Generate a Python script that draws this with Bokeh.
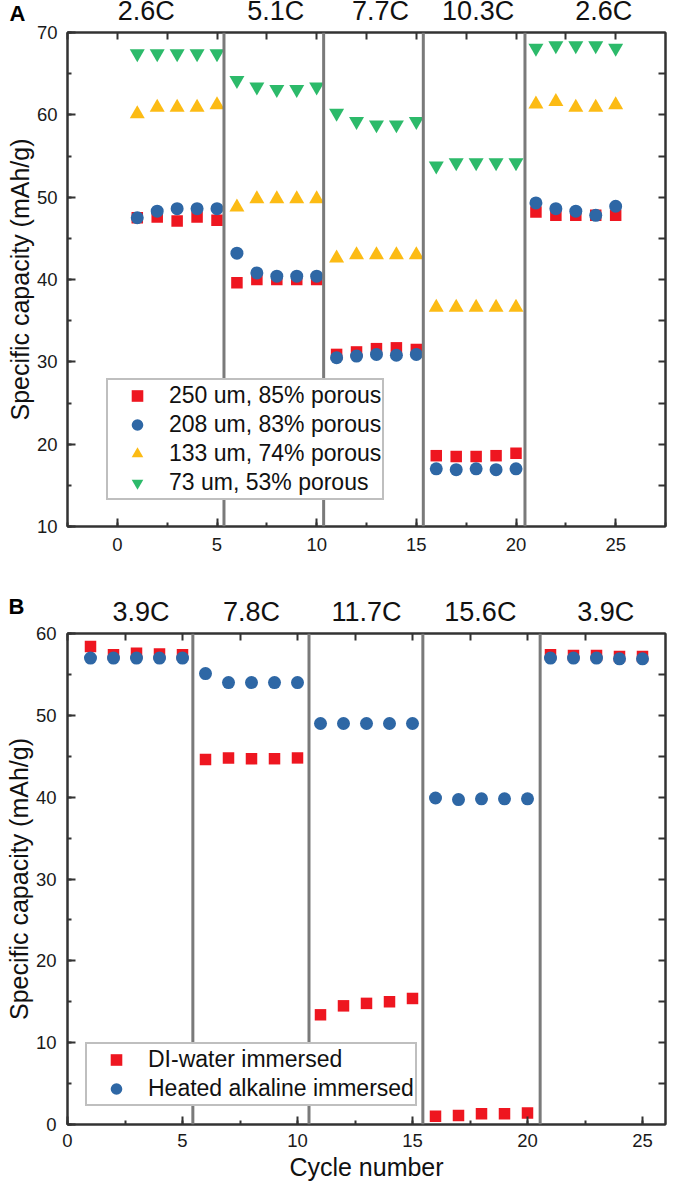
from bokeh.plotting import figure
from bokeh.models import (Range1d, LinearAxis, SingleIntervalTicker, FixedTicker, Span,
                          Legend, LegendItem, ColumnDataSource)
from bokeh.core.properties import value
from bokeh.layouts import column
from bokeh.embed import file_html
from bokeh.resources import INLINE

# ---------------- data ----------------
cycles = list(range(1, 26))

# Panel A
a_250 = [47.5, 47.6, 47.1, 47.6, 47.2,
         39.6, 40.0, 40.0, 40.0, 40.0,
         30.9, 31.2, 31.6, 31.7, 31.5,
         18.6, 18.5, 18.5, 18.6, 18.9,
         48.2, 47.8, 47.8, 47.8, 47.8]
a_208 = [47.5, 48.3, 48.6, 48.6, 48.6,
         43.2, 40.8, 40.4, 40.4, 40.4,
         30.5, 30.7, 30.9, 30.8, 30.9,
         17.0, 16.9, 17.0, 16.9, 17.0,
         49.3, 48.6, 48.3, 47.8, 48.9]
a_133 = [60.1, 60.9, 60.9, 60.9, 61.2,
         48.8, 49.8, 49.8, 49.8, 49.8,
         42.6, 43.0, 43.0, 43.0, 43.0,
         36.6, 36.6, 36.6, 36.6, 36.6,
         61.3, 61.6, 60.9, 60.9, 61.2]
a_73 = [67.45, 67.45, 67.45, 67.45, 67.45,
        64.2, 63.4, 63.1, 63.1, 63.4,
        60.2, 59.2, 58.8, 58.8, 59.2,
        53.8, 54.2, 54.2, 54.2, 54.2,
        68.1, 68.4, 68.4, 68.4, 68.1]
a_labels = ["250 um, 85% porous", "208 um, 83% porous",
            "133 um, 74% porous", "73 um, 53% porous"]
a_rates = ["2.6C", "5.1C", "7.7C", "10.3C", "2.6C"]

# Panel B
b_di = [58.4, 57.4, 57.6, 57.5, 57.4,
        44.6, 44.8, 44.7, 44.7, 44.8,
        13.4, 14.5, 14.8, 15.0, 15.4,
        1.0, 1.1, 1.3, 1.3, 1.4,
        57.4, 57.3, 57.3, 57.2, 57.2]
b_alk = [57.0, 57.0, 57.0, 57.0, 57.0,
         55.1, 54.0, 54.0, 54.0, 54.0,
         49.0, 49.0, 49.0, 49.0, 49.0,
         39.9, 39.7, 39.8, 39.8, 39.8,
         57.0, 57.0, 57.0, 56.9, 56.9]
b_labels = ["DI-water immersed", "Heated alkaline immersed"]
b_rates = ["3.9C", "7.8C", "11.7C", "15.6C", "3.9C"]

y_title = "Specific capacity (mAh/g)"
x_title = "Cycle number"

# ---------------- layout / style ----------------
FONT = "Liberation Sans"
RED = "#ee1620"
BLUE = "#2e67a5"
YELLOW = "#fcbb14"
GREEN = "#2cba6a"
DIV = "#7a7a7a"
AX = "#333333"

W = 667
BR = 2
TOP = 7
A_BL, B_BL = 66, 67
A_X, A_Y = (-2.5, 27.5), (10, 70)
B_X, B_Y = (0.0, 26.0), (0, 60)

a_rate_x = [1.45, 7.95, 13.2, 18.1, 24.4]
b_rate_x = [3.2, 8.0, 13.0, 17.95, 23.4]
a_div = [5.35, 10.35, 15.35, 20.45]
b_div = [5.45, 10.5, 15.45, 20.55]

HEAD_A, FIG_A = 25, 565
HEAD_B, FIG_B = 36, 559
A_BOT, B_BOT = 64, 61


def base_axis(ax):
    ax.axis_line_width = 2
    ax.axis_line_color = AX
    ax.major_tick_line_width = 2
    ax.minor_tick_line_width = 2
    ax.major_tick_line_color = AX
    ax.minor_tick_line_color = AX
    ax.major_tick_out = 0
    ax.minor_tick_out = 0


def label_axis(ax, interval, standoff):
    base_axis(ax)
    ax.ticker = SingleIntervalTicker(interval=interval, num_minor_ticks=2)
    ax.major_tick_in = 8
    ax.minor_tick_in = 4
    ax.major_label_text_font = FONT
    ax.major_label_text_color = "#1a1a1a"
    ax.major_label_text_font_size = "18.5px"
    ax.major_label_standoff = standoff


def mirror_axis(lo, hi, step):
    # tick-only axis for the top / right frame edges (no labels)
    n = int(round((hi - lo) / step))
    pos = [lo + i * step for i in range(1, n)]
    ax = LinearAxis(ticker=FixedTicker(ticks=[], minor_ticks=pos))
    base_axis(ax)
    ax.major_tick_in = 0
    ax.minor_tick_in = 7
    ax.major_label_standoff = 0
    ax.axis_label_standoff = 0
    return ax


def make_fig(height, xr, yr, bl, bottom, xint, yint, xstand, ystand, xstep):
    p = figure(width=W, height=height, x_range=xr, y_range=Range1d(*yr),
               output_backend="svg", toolbar_location=None, title=None,
               min_border_left=bl, min_border_right=BR,
               min_border_top=TOP, min_border_bottom=bottom,
               x_axis_location=None, y_axis_location=None)
    p.grid.visible = False
    p.outline_line_color = AX
    p.outline_line_width = 2
    p.background_fill_color = "white"
    p.border_fill_color = "white"
    xb = LinearAxis()
    label_axis(xb, xint, xstand)
    p.add_layout(xb, "below")
    yl = LinearAxis()
    label_axis(yl, yint, ystand)
    yl.axis_label = y_title
    yl.axis_label_text_font = FONT
    yl.axis_label_text_font_size = "25px"
    yl.axis_label_text_font_style = "normal"
    yl.axis_label_text_color = "#111111"
    yl.axis_label_standoff = 0
    p.add_layout(yl, "left")
    lo = xr.start if xr.start % xstep == 0 else xr.start + (-xr.start % xstep)
    p.add_layout(mirror_axis(lo - xstep, xr.end, xstep), "above")
    p.add_layout(mirror_axis(yr[0], yr[1], 5), "right")
    return p, xb


def make_head(height, xr, bl, rate_x, rates, letter, letter_y, letter_right):
    h = figure(width=W, height=height, x_range=xr, y_range=Range1d(0, height),
               output_backend="svg", toolbar_location=None, title=None, min_border=0,
               min_border_left=bl, min_border_right=BR, min_border_top=0, min_border_bottom=0,
               x_axis_location=None, y_axis_location=None)
    h.grid.visible = False
    h.outline_line_color = None
    h.background_fill_color = "white"
    h.border_fill_color = "white"
    # panel letter drawn as the single label of a bare left axis
    la = LinearAxis(ticker=FixedTicker(ticks=[letter_y], minor_ticks=[]),
                    major_label_overrides={letter_y: letter})
    la.axis_line_color = None
    la.major_tick_line_color = None
    la.minor_tick_line_color = None
    la.major_tick_in = 0
    la.major_tick_out = 0
    la.major_label_standoff = bl - letter_right
    la.major_label_text_font = FONT
    la.major_label_text_font_size = "22px"
    la.major_label_text_font_style = "bold"
    la.major_label_text_color = "#000000"
    h.add_layout(la, "left")
    src = ColumnDataSource(dict(x=rate_x, y=[0] * len(rates), t=rates))
    h.text(x="x", y="y", text="t", source=src, text_font=value(FONT),
           text_font_size=value("27px"), text_align="center", text_baseline="bottom",
           text_color="#111111")
    return h


def make_legend(labels, renderers, loc):
    return Legend(items=[LegendItem(label=l, renderers=[r]) for l, r in zip(labels, renderers)],
                  location=loc, margin=0, padding=1, spacing=0,
                  glyph_width=56, glyph_height=29, label_height=29, label_standoff=4,
                  label_text_font=FONT, label_text_font_size="23px", label_text_color="#111111",
                  border_line_color="#808080", border_line_width=2,
                  background_fill_color="white", background_fill_alpha=1.0)


# ---------------- Panel A ----------------
xr_a = Range1d(*A_X)
head_a = make_head(HEAD_A, xr_a, A_BL, a_rate_x, a_rates, "A", 12.5, 24)
pa, xa = make_fig(FIG_A, xr_a, A_Y, A_BL, A_BOT, 5, 10, 11, 10, 2.5)

for d in a_div:
    pa.add_layout(Span(location=d, dimension="height", line_color=DIV, line_width=3))

src_a = ColumnDataSource(dict(x=cycles, s250=a_250, s208=a_208, s133=a_133, s73=a_73))
r1 = pa.scatter("x", "s250", source=src_a, marker="square", size=11.5, fill_color=RED, line_color=None)
r2 = pa.scatter("x", "s208", source=src_a, marker="circle", size=13, fill_color=BLUE, line_color=None)
r3 = pa.scatter("x", "s133", source=src_a, marker="triangle", size=15, fill_color=YELLOW, line_color=None)
r4 = pa.scatter("x", "s73", source=src_a, marker="inverted_triangle", size=15, fill_color=GREEN, line_color=None)
pa.add_layout(make_legend(a_labels, [r1, r2, r3, r4], (39, 26)))

# ---------------- Panel B ----------------
xr_b = Range1d(*B_X)
head_b = make_head(HEAD_B, xr_b, B_BL, b_rate_x, b_rates, "B", 20, 24)
pb, xbb = make_fig(FIG_B, xr_b, B_Y, B_BL, B_BOT, 5, 10, 9, 11, 2.5)
xbb.axis_label = x_title
xbb.axis_label_text_font = FONT
xbb.axis_label_text_font_size = "25px"
xbb.axis_label_text_font_style = "normal"
xbb.axis_label_text_color = "#111111"
xbb.axis_label_standoff = 3

for d in b_div:
    pb.add_layout(Span(location=d, dimension="height", line_color=DIV, line_width=3))

src_b = ColumnDataSource(dict(x=cycles, di=b_di, alk=b_alk))
q1 = pb.scatter("x", "di", source=src_b, marker="square", size=11.5, fill_color=RED, line_color=None)
q2 = pb.scatter("x", "alk", source=src_b, marker="circle", size=13, fill_color=BLUE, line_color=None)
pb.add_layout(make_legend(b_labels, [q1, q2], (18, 18)))

layout = column(head_a, pa, head_b, pb, spacing=0)
open("out.html", "w").write(file_html(layout, INLINE))
